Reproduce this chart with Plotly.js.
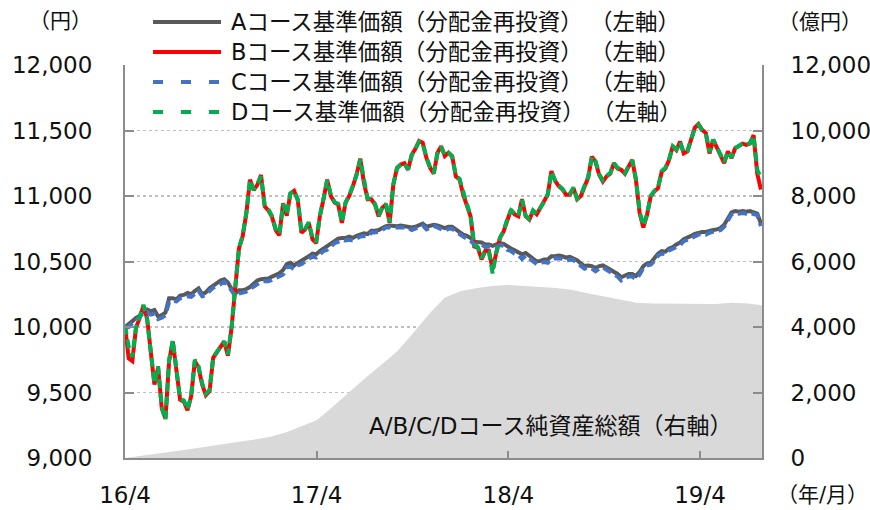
<!DOCTYPE html>
<html>
<head>
<meta charset="utf-8">
<script src="https://cdn.plot.ly/plotly-3.0.1.min.js"></script>
<style>html,body{margin:0;padding:0;background:#fff;}#chart{width:870px;height:510px;}</style>
</head>
<body>
<div id="chart"></div>
<script>
// ---- data (weekly grid from 2016-04-01) ----
const weekStart = '2016-04-01';
const seriesA = [10000,10020,10045,10070,10085,10125,10135,10120,10130,10080,10090,10110,10220,10220,10210,10240,10245,10260,10250,10275,10295,10250,10265,10295,10315,10330,10355,10365,10340,10290,10255,10280,10280,10290,10305,10330,10355,10365,10365,10370,10385,10395,10410,10435,10480,10490,10470,10490,10505,10520,10540,10560,10555,10580,10600,10615,10635,10660,10675,10680,10680,10690,10680,10695,10705,10715,10710,10735,10735,10740,10755,10770,10775,10770,10770,10775,10770,10770,10760,10765,10775,10790,10765,10775,10780,10775,10765,10755,10765,10765,10745,10720,10705,10695,10680,10650,10645,10645,10630,10630,10620,10630,10640,10635,10615,10600,10585,10570,10555,10565,10540,10525,10500,10505,10515,10515,10540,10540,10545,10540,10530,10535,10525,10510,10485,10465,10470,10465,10450,10465,10470,10455,10435,10420,10405,10380,10390,10405,10405,10390,10420,10465,10485,10490,10525,10560,10580,10575,10600,10610,10630,10645,10670,10680,10695,10710,10720,10725,10725,10735,10740,10745,10755,10780,10830,10875,10885,10880,10885,10880,10885,10875,10865,10790];
const seriesB = [10010,9760,9740,9995,10070,10160,10070,9815,9560,9690,9380,9300,9740,9890,9635,9445,9430,9365,9470,9740,9690,9560,9480,9510,9765,9805,9855,9890,9780,9995,10300,10600,10690,10865,11125,11045,11085,11160,10920,10890,10840,10740,10700,10945,10850,11020,11040,10970,10720,10745,10795,10670,10640,10845,10975,11125,11000,10950,10935,10795,10950,11000,11075,11165,11285,11100,10975,10975,10935,10845,10910,10935,10795,11090,11215,11240,11250,11200,11315,11360,11420,11405,11290,11215,11170,11330,11380,11305,11330,11305,11150,11125,11010,10935,10845,10615,10605,10515,10580,10580,10440,10565,10680,10730,10820,10895,10860,10845,10975,10845,10820,10885,10860,10910,10950,11010,11190,11115,11075,11050,11010,11010,11060,10975,11000,11075,11140,11300,11260,11160,11110,11150,11170,11250,11210,11200,11170,11225,11275,11120,10870,10760,10855,10995,11035,11060,11185,11210,11275,11380,11350,11415,11325,11340,11440,11520,11550,11505,11480,11325,11430,11365,11300,11250,11340,11290,11365,11380,11400,11390,11400,11465,11170,11050];
const seriesC = [10000,10000,10030,10050,10075,10110,10115,10095,10100,10060,10070,10090,10190,10200,10195,10220,10225,10235,10230,10255,10275,10235,10240,10275,10300,10310,10330,10345,10320,10270,10235,10255,10265,10270,10290,10310,10330,10345,10350,10350,10360,10375,10390,10400,10455,10460,10440,10470,10480,10500,10520,10540,10530,10555,10580,10590,10615,10640,10650,10665,10660,10665,10660,10675,10690,10695,10690,10720,10720,10725,10740,10760,10760,10755,10760,10760,10755,10760,10740,10750,10760,10775,10745,10760,10770,10760,10750,10735,10750,10750,10730,10705,10690,10675,10660,10630,10620,10630,10610,10615,10605,10610,10625,10620,10590,10580,10560,10550,10520,10545,10520,10505,10480,10490,10495,10490,10520,10525,10525,10520,10505,10515,10510,10490,10465,10445,10455,10445,10425,10445,10455,10435,10415,10400,10385,10355,10370,10385,10385,10365,10400,10450,10470,10475,10505,10545,10560,10555,10585,10595,10610,10625,10655,10665,10680,10690,10705,10710,10705,10720,10725,10730,10740,10765,10815,10860,10870,10865,10870,10865,10870,10860,10855,10770];
const seriesD = [10010,9850,9770,10000,10080,10170,10060,9820,9570,9700,9390,9290,9750,9900,9640,9450,9440,9370,9480,9750,9700,9570,9490,9520,9770,9810,9860,9890,9790,10000,10310,10600,10700,10870,11120,11050,11090,11150,10930,10900,10845,10750,10710,10940,10860,11020,11040,10975,10730,10750,10800,10680,10650,10850,10980,11120,11010,10955,10940,10800,10950,11005,11080,11160,11280,11110,10980,10980,10940,10850,10915,10940,10800,11090,11210,11240,11250,11205,11310,11360,11415,11400,11295,11220,11175,11325,11375,11310,11330,11300,11155,11130,11020,10940,10850,10625,10610,10525,10585,10575,10410,10570,10680,10735,10825,10890,10865,10850,10970,10850,10825,10890,10865,10910,10955,11015,11185,11120,11080,11055,11015,11015,11065,10980,11005,11080,11145,11300,11265,11165,11120,11155,11175,11250,11215,11205,11175,11230,11270,11130,10880,10775,10860,11000,11040,11065,11190,11215,11280,11380,11355,11410,11330,11345,11440,11515,11545,11500,11480,11335,11430,11370,11305,11260,11340,11295,11365,11380,11400,11390,11405,11460,11200,11140];
// net assets (monthly, 億円, right axis)
const monthStart = '2016-04-01';
const netAssets = [0,60,130,200,270,350,420,490,560,640,780,950,1150,1560,2000,2420,2830,3250,3800,4400,4900,5100,5190,5250,5280,5240,5220,5190,5130,5020,4920,4820,4740,4720,4710,4700,4690,4700,4740,4720,4660];
const tickDates = ['2016-04-01','2017-04-01','2018-04-01','2019-04-01'];
const tickLabels = ['16/4','17/4','18/4','19/4'];
const seriesNames = ['Aコース基準価額（分配金再投資） （左軸）','Bコース基準価額（分配金再投資） （左軸）','Cコース基準価額（分配金再投資） （左軸）','Dコース基準価額（分配金再投資） （左軸）'];
const areaLabel = 'A/B/C/Dコース純資産総額（右軸）';

// ---- date grids ----
function addDays(iso, n){const d=new Date(iso+'T00:00:00Z');d.setUTCDate(d.getUTCDate()+n);return d.toISOString().slice(0,10);}
function addMonths(iso, n){const d=new Date(iso+'T00:00:00Z');d.setUTCMonth(d.getUTCMonth()+n);return d.toISOString().slice(0,10);}
const weekDates = seriesA.map((_,i)=>addDays(weekStart,i*7));
const monthDates = netAssets.map((_,i)=>addMonths(monthStart,i));

// ---- geometry helpers ----
const W=870,H=510,ML=125,MR=108,MT=65,MB=52;
const PW=W-ML-MR, PH=H-MT-MB;
const px=x=>(x-ML)/PW, py=y=>(H-MB-y)/PH;
const FONT='DejaVu Sans, "Noto Sans CJK JP", sans-serif';
const TXT='#111111', AX='#8c8c8c';
const colors=['#595959','#ff0000','#4472c4','#00b050'];

const traces=[
 {x:monthDates,y:netAssets,yaxis:'y2',type:'scatter',mode:'lines',fill:'tozeroy',fillcolor:'#d9d9d9',line:{width:0,color:'#d9d9d9'},hoverinfo:'skip',showlegend:false},
 {x:weekDates,y:seriesA,type:'scatter',mode:'lines',name:seriesNames[0],line:{color:colors[0],width:4},showlegend:false},
 {x:weekDates,y:seriesB,type:'scatter',mode:'lines',name:seriesNames[1],line:{color:colors[1],width:4},showlegend:false},
 {x:weekDates,y:seriesC,type:'scatter',mode:'lines',name:seriesNames[2],line:{color:colors[2],width:4,dash:'9px,5px'},showlegend:false},
 {x:weekDates,y:seriesD,type:'scatter',mode:'lines',name:seriesNames[3],line:{color:colors[3],width:4,dash:'9px,5px'},showlegend:false}
];

const rows=[22,52,82,112];
const shapes=[{type:'rect',xref:'paper',yref:'paper',x0:px(137),x1:px(688),y0:py(124),y1:py(4),fillcolor:'#ffffff',line:{width:0},layer:'above'}];
const annotations=[];
rows.forEach((ry,i)=>{
  shapes.push({type:'line',xref:'paper',yref:'paper',x0:px(153),x1:px(221),y0:py(ry),y1:py(ry),layer:'above',line:{color:colors[i],width:4,dash:(i>=2?'10px,18px':'solid')}});
  annotations.push({xref:'paper',yref:'paper',x:px(229),y:py(ry),xanchor:'left',yanchor:'middle',showarrow:false,text:seriesNames[i],font:{family:FONT,size:22.5,color:TXT}});
});
annotations.push({xref:'paper',yref:'paper',x:px(60),y:py(21),xanchor:'center',yanchor:'middle',showarrow:false,text:'（円）',font:{family:FONT,size:21,color:TXT}});
annotations.push({xref:'paper',yref:'paper',x:px(820),y:py(22),xanchor:'center',yanchor:'middle',showarrow:false,text:'（億円）',font:{family:FONT,size:21,color:TXT}});
annotations.push({xref:'paper',yref:'paper',x:px(822),y:py(495),xanchor:'center',yanchor:'middle',showarrow:false,text:'（年/月）',font:{family:FONT,size:21,color:TXT}});
annotations.push({xref:'paper',yref:'paper',x:px(550),y:py(426),xanchor:'center',yanchor:'middle',showarrow:false,text:areaLabel,font:{family:FONT,size:23,color:TXT}});

const layout={
 width:W,height:H,margin:{l:ML,r:MR,t:MT,b:MB,pad:0},
 paper_bgcolor:'#ffffff',plot_bgcolor:'#ffffff',
 font:{family:FONT,size:23,color:TXT},
 showlegend:false,
 xaxis:{type:'date',range:['2016-04-01','2019-07-28'],tickmode:'array',tickvals:tickDates,ticktext:tickLabels,
   ticks:'inside',ticklen:7,tickwidth:2,tickcolor:AX,showline:true,linecolor:AX,linewidth:2,showgrid:false,zeroline:false,
   tickfont:{family:FONT,size:23,color:TXT},ticklabelstandoff:15,fixedrange:true},
 yaxis:{range:[9000,12000],dtick:500,tick0:9000,tickformat:',d',ticks:'inside',ticklen:9,tickwidth:2,tickcolor:AX,
   showline:true,linecolor:AX,linewidth:2,showgrid:true,gridcolor:'#c0c0c0',gridwidth:1.5,griddash:'dot',zeroline:false,
   tickfont:{family:FONT,size:23,color:TXT},ticklabelstandoff:26,fixedrange:true},
 yaxis2:{overlaying:'y',side:'right',range:[0,12000],dtick:2000,tick0:0,tickformat:',d',ticks:'inside',ticklen:9,tickwidth:2,tickcolor:AX,
   showline:true,linecolor:AX,linewidth:2,showgrid:false,zeroline:false,
   tickfont:{family:FONT,size:23,color:TXT},ticklabelstandoff:22,fixedrange:true},
 shapes:shapes,annotations:annotations
};
Plotly.newPlot('chart',traces,layout,{staticPlot:true,displayModeBar:false});
</script>
</body>
</html>
